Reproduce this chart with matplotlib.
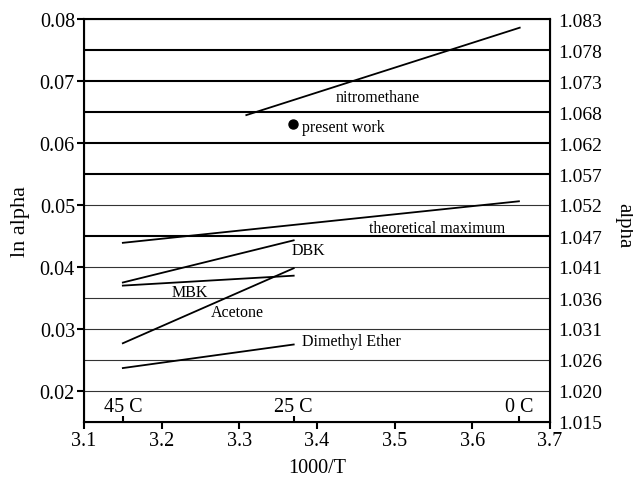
import numpy as np
import matplotlib
matplotlib.use("Agg")
import matplotlib.pyplot as plt
import matplotlib.transforms as mtransforms

plt.rcParams["font.family"] = ["Liberation Serif", "DejaVu Serif"]

# line endpoints: 1000/T and ln alpha
series = ["nitromethane", "theoretical maximum", "DBK", "MBK", "Acetone", "Dimethyl Ether"]
x_start = [3.309, 3.15, 3.15, 3.15, 3.15, 3.15]
x_end = [3.661, 3.66, 3.37, 3.37, 3.37, 3.37]
y_start = [0.0645, 0.0439, 0.0375, 0.0370, 0.0277, 0.0237]
y_end = [0.0786, 0.0506, 0.0443, 0.0386, 0.0398, 0.0275]
label_x = [3.4245, 3.467, 3.367, 3.213, 3.263, 3.381]
label_y = [0.0674, 0.0463, 0.0427, 0.0360, 0.0328, 0.0280]

present_x, present_y = 3.369, 0.0631

grid_levels = [0.02, 0.025, 0.03, 0.035, 0.04, 0.045, 0.05, 0.055, 0.06, 0.065, 0.07, 0.075]
grid_heavy = [False, False, False, False, False, True, False, True, True, True, True, True]

temp_x = [3.15, 3.37, 3.66]
temp_labels = ["45 C", "25 C", "0 C"]

x_ticks = [3.1, 3.2, 3.3, 3.4, 3.5, 3.6, 3.7]
y_ticks = [0.02, 0.03, 0.04, 0.05, 0.06, 0.07, 0.08]
right_ticks = [0.015, 0.02, 0.025, 0.03, 0.035, 0.04, 0.045, 0.05, 0.055, 0.06, 0.065, 0.07, 0.075, 0.08]
right_labels = ["1.015", "1.020", "1.026", "1.031", "1.036", "1.041", "1.047",
                "1.052", "1.057", "1.062", "1.068", "1.073", "1.078", "1.083"]

fig = plt.figure(figsize=(6.33, 4.81), dpi=100)
ax = fig.add_axes([84 / 633, 1 - 423 / 481, 466 / 633, 403 / 481])
ax.set_xlim(3.1, 3.7)
ax.set_ylim(0.015, 0.08)

for lvl, heavy in zip(grid_levels, grid_heavy):
    ax.axhline(lvl, color="black" if heavy else "#333333", lw=1.5 if heavy else 0.8, zorder=1)

for xs, xe, ys, ye in zip(x_start, x_end, y_start, y_end):
    ax.plot([xs, xe], [ys, ye], color="black", lw=1.3, zorder=3)
for name, lx, ly in zip(series, label_x, label_y):
    ax.text(lx, ly, name, fontsize=11.5, ha="left", va="center", zorder=4)

ax.plot(present_x, present_y, "o", color="black", ms=6.5, zorder=5)
ax.text(present_x + 0.012, present_y - 0.0005, "present work", fontsize=11.5, va="center")

trans = mtransforms.blended_transform_factory(ax.transData, ax.transAxes)
ax.vlines(temp_x, 0, 0.016, color="black", lw=1.5, transform=trans)
for tx, tl in zip(temp_x, temp_labels):
    ax.text(tx, 0.027, tl, fontsize=14.5, ha="center", va="baseline", transform=trans)

ax.set_xticks(x_ticks)
ax.set_xticklabels([f"{v:.1f}" for v in x_ticks])
ax.set_yticks(y_ticks)
ax.set_yticklabels([f"{v:.2f}" for v in y_ticks])
ax.tick_params(labelsize=14.5, width=1.5, length=5, direction="out", pad=1.5)
for sp in ax.spines.values():
    sp.set_linewidth(1.5)
ax.set_xlabel("1000/T", fontsize=14.5, va="center")
ax.xaxis.set_label_coords(0.5, -0.112)
ax.set_ylabel("ln alpha", fontsize=16, va="center")
ax.yaxis.set_label_coords(-0.136, 0.5)

ax2 = ax.twinx()
ax2.set_ylim(ax.get_ylim())
ax2.set_yticks(right_ticks)
ax2.set_yticklabels(right_labels)
ax2.tick_params(labelsize=14, length=0, pad=6)
ax2.set_ylabel("alpha", fontsize=15, rotation=270, va="center")
ax2.yaxis.set_label_coords(1.159, 0.49)

fig.savefig("out.png", dpi=100, facecolor="white")
